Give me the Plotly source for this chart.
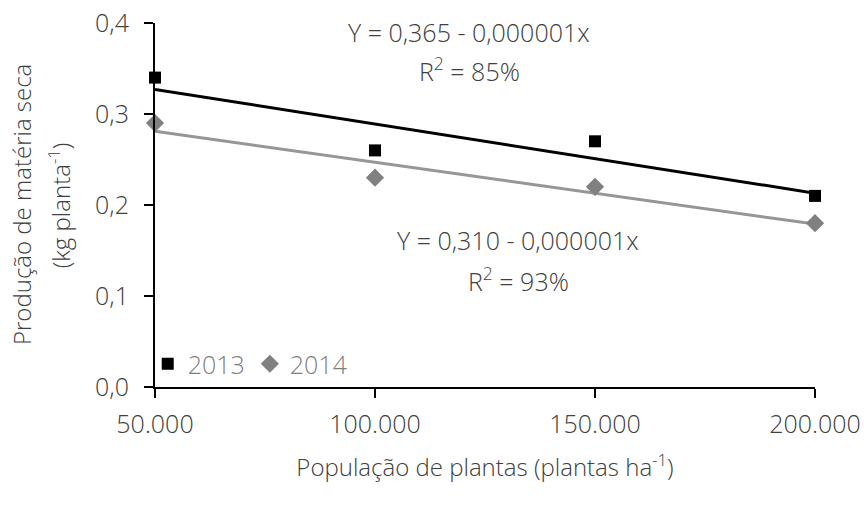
import numpy as np
import plotly.graph_objects as go

# Plant population (plants per hectare)
populacao = [50000, 100000, 150000, 200000]
# Dry matter production (kg per plant)
materia_2013 = [0.34, 0.26, 0.27, 0.21]
materia_2014 = [0.29, 0.23, 0.22, 0.18]

y_ticks = [0.0, 0.1, 0.2, 0.3, 0.4]
x_ticks = [50000, 100000, 150000, 200000]

eq_2013 = ["Y = 0,365 - 0,000001x", "R<sup>2</sup> = 85%"]
eq_2014 = ["Y = 0,310 - 0,000001x", "R<sup>2</sup> = 93%"]
y_title = ["Produção de matéria seca", "(kg planta<sup>-1</sup>)"]

FONT = "Open Sans"
W = 300
TXT = "#404040"


def fnt(size, color=TXT):
    return dict(family=FONT, size=size, color=color, weight=W)


fig = go.Figure()

# Linear trend lines fitted to each year's data
x_arr = np.array(populacao, dtype=float)
for vals, color in [(materia_2013, "#000000"), (materia_2014, "#969696")]:
    slope, intercept = np.polyfit(x_arr, np.array(vals), 1)
    xs = np.array([x_arr.min(), x_arr.max()])
    fig.add_trace(go.Scatter(
        x=xs, y=intercept + slope * xs, mode="lines",
        line=dict(color=color, width=3), showlegend=False, hoverinfo="skip",
    ))

fig.add_trace(go.Scatter(
    x=populacao, y=materia_2013, mode="markers", name="2013",
    marker=dict(symbol="square", size=12, color="#000000"),
    cliponaxis=False,
))
fig.add_trace(go.Scatter(
    x=populacao, y=materia_2014, mode="markers", name="2014",
    marker=dict(symbol="diamond", size=14, color="#808080"),
    cliponaxis=False,
))

# Regression equations, one annotation per line
for (lines, xpos, ypos) in [(eq_2013, 0.476, (0.975, 0.872)),
                            (eq_2014, 0.55, (0.405, 0.296))]:
    for txt, yy in zip(lines, ypos):
        fig.add_annotation(x=xpos, y=yy, xref="paper", yref="paper", text=txt,
                           showarrow=False, xanchor="center", yanchor="middle",
                           font=fnt(25))

# Two-line y-axis title
for txt, xx in zip(y_title, (-0.203, -0.145)):
    fig.add_annotation(x=xx, y=0.50, xref="paper", yref="paper", text=txt,
                       textangle=-90, showarrow=False, xanchor="center",
                       yanchor="middle", font=fnt(24))

fig.update_layout(
    width=866, height=507,
    margin=dict(l=155, r=51, t=23, b=120),
    plot_bgcolor="white", paper_bgcolor="white",
    separators=",.",
    font=fnt(24),
    legend=dict(orientation="h", x=-0.011, y=0.0, xanchor="left", yanchor="bottom",
                bgcolor="rgba(0,0,0,0)", font=fnt(25, "#7f7f7f"),
                itemwidth=30, tracegroupgap=0),
    xaxis=dict(
        range=[50000, 200000], tickvals=x_ticks, tickformat=",d",
        showline=True, linecolor="black", linewidth=2,
        ticks="outside", ticklen=9, tickwidth=2, tickcolor="black",
        showgrid=False, zeroline=False, ticklabelstandoff=5, automargin=False,
        tickfont=fnt(25),
        title=dict(text="População de plantas (plantas ha<sup>-1</sup>)",
                   font=fnt(24), standoff=20),
    ),
    yaxis=dict(
        range=[0, 0.4], tickvals=y_ticks, tickformat=".1f",
        showline=True, linecolor="black", linewidth=2,
        ticks="outside", ticklen=9, tickwidth=2, tickcolor="black",
        showgrid=False, zeroline=False, ticklabelstandoff=10, automargin=False,
        tickfont=fnt(25),
    ),
)

fig.write_html("out.html")
